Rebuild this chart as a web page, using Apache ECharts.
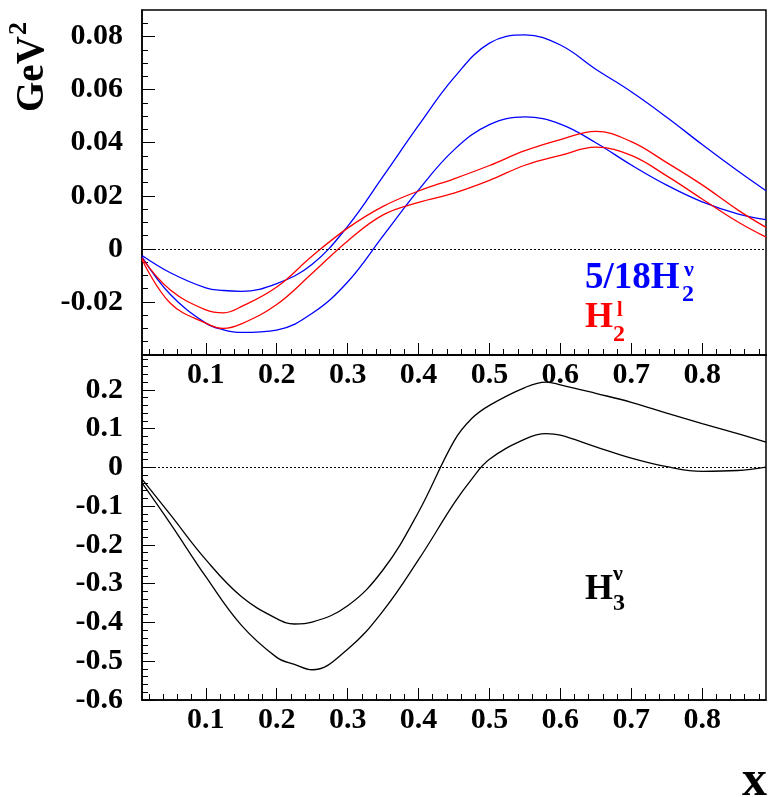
<!DOCTYPE html>
<html>
<head>
<meta charset="utf-8">
<script src="https://cdn.jsdelivr.net/npm/echarts@6/dist/echarts.min.js"></script>
<style>
html,body{margin:0;padding:0;background:#fff;}
#chart{width:768px;height:797px;}
</style>
</head>
<body>
<div id="chart"></div>
<script>
// ---- data ----
const xTop = [0.01,0.05,0.1,0.125,0.15,0.2,0.25,0.3,0.35,0.4,0.45,0.5,0.55,0.6,0.65,0.7,0.75,0.8,0.85,0.89];
const blueUpper = [-0.0025,-0.009,-0.0147,-0.0157,-0.016,-0.0131,-0.0058,0.0085,0.0273,0.0465,0.0645,0.0775,0.0806,0.0768,0.0677,0.0592,0.0496,0.0393,0.0294,0.0219];
const blueLower = [-0.003,-0.0172,-0.028,-0.0305,-0.0315,-0.0306,-0.0243,-0.0125,0.0049,0.0222,0.0373,0.0468,0.0497,0.047,0.040,0.0316,0.024,0.0177,0.0132,0.011];
const redUpper = [-0.0035,-0.0155,-0.023,-0.0241,-0.0218,-0.0144,-0.0027,0.0078,0.016,0.0218,0.0264,0.0314,0.037,0.0412,0.0443,0.0404,0.0325,0.0241,0.0147,0.0081];
const redLower = [-0.004,-0.0205,-0.028,-0.030,-0.0283,-0.021,-0.0092,0.003,0.0128,0.0175,0.021,0.0258,0.0315,0.0352,0.0383,0.0352,0.0275,0.0188,0.0102,0.0044];

const xBot = [0.01,0.05,0.1,0.15,0.2,0.225,0.25,0.3,0.35,0.4,0.45,0.475,0.5,0.55,0.58,0.6,0.65,0.7,0.75,0.8,0.85,0.89];
const blackUpper = [-0.03,-0.122,-0.238,-0.333,-0.39,-0.404,-0.399,-0.357,-0.264,-0.115,0.068,0.126,0.160,0.206,0.220,0.213,0.191,0.168,0.140,0.113,0.087,0.065];
const blackLower = [-0.04,-0.145,-0.282,-0.407,-0.49,-0.508,-0.522,-0.469,-0.37,-0.238,-0.093,-0.030,0.021,0.073,0.087,0.083,0.053,0.024,0.002,-0.010,-0.008,0.001];

// tick labels
const xTickLabels = [0.1,0.2,0.3,0.4,0.5,0.6,0.7,0.8];
const topYTickLabels = [-0.02,0,0.02,0.04,0.06,0.08];
const botYTickLabels = [-0.6,-0.5,-0.4,-0.3,-0.2,-0.1,0,0.1,0.2];

// ---- build ----
function pairs(xs, ys){ return xs.map((x,i)=>[x, ys[i]]); }
function minorTicks(from, to, step, majorStep){
  const out=[]; const n=Math.round((to-from)/step);
  for(let i=0;i<=n;i++){ const v=+(from+i*step).toFixed(6); if(Math.abs(v/majorStep-Math.round(v/majorStep))>1e-6) out.push(v); }
  return out;
}
const xMinor = minorTicks(0.02,0.88,0.02,0.1);
const topYMinor = minorTicks(-0.035,0.085,0.005,0.02);
const botYMinor = minorTicks(-0.58,0.28,0.02,0.1);

const FONT = 'Liberation Serif';
const lab = {fontFamily:FONT, fontWeight:'bold', fontSize:30, color:'#000'};
const fmtX = v => (+v).toFixed(1);
const fmtTop = v => Math.abs(v)<1e-9 ? '0' : (+v).toFixed(2);
const fmtBot = v => Math.abs(v)<1e-9 ? '0' : (+v).toFixed(1);

function xAxisPair(g){
  return [
    {gridIndex:g,type:'value',min:0.01,max:0.89,position:'bottom',
     axisLine:{show:true,onZero:false,lineStyle:{color:'#000',width:1.5}},
     axisTick:{show:true,inside:true,length:12,customValues:xTickLabels,lineStyle:{color:'#000',width:1}},
     axisLabel:Object.assign({show:true,customValues:xTickLabels,formatter:fmtX,margin:5},lab),
     splitLine:{show:false}},
    {gridIndex:g,type:'value',min:0.01,max:0.89,position:'bottom',
     axisLine:{show:false,onZero:false},
     axisTick:{show:true,inside:true,length:6,customValues:xMinor,lineStyle:{color:'#000',width:1}},
     axisLabel:{show:false},splitLine:{show:false}}
  ];
}
function yAxisPair(g,min,max,major,minor,fmt){
  return [
    {gridIndex:g,type:'value',min:min,max:max,position:'left',
     axisLine:{show:true,onZero:false,lineStyle:{color:'#000',width:1.5}},
     axisTick:{show:true,inside:true,length:13,customValues:major,lineStyle:{color:'#000',width:1}},
     axisLabel:Object.assign({show:true,customValues:major,formatter:fmt,margin:19},lab),
     splitLine:{show:false}},
    {gridIndex:g,type:'value',min:min,max:max,position:'left',
     axisLine:{show:false,onZero:false},
     axisTick:{show:true,inside:true,length:6,customValues:minor,lineStyle:{color:'#000',width:1}},
     axisLabel:{show:false},splitLine:{show:false}}
  ];
}
const zeroLine = {silent:true,symbol:['none','none'],label:{show:false},
  lineStyle:{color:'#000',type:[2,2],width:1},data:[{yAxis:0}],animation:false};
function line(name,xs,ys,color,xi,yi,extra){
  return Object.assign({name:name,type:'line',xAxisIndex:xi,yAxisIndex:yi,data:pairs(xs,ys),
    smooth:0.4,symbol:'none',showSymbol:false,lineStyle:{color:color,width:1.3},itemStyle:{color:color},
    animation:false,z:3},extra||{});
}

const T = (text,x,y,size,color,align,extra)=>Object.assign({type:'text',x:x,y:y,
  style:{text:text,fontFamily:FONT,fontWeight:'bold',fontSize:size,fill:color,align:align||'left',verticalAlign:'middle'}},extra||{});

const chart = echarts.init(document.getElementById('chart'),null,{renderer:'canvas'});
chart.setOption({
  animation:false,
  backgroundColor:'#fff',
  grid:[
    {left:142,top:10,width:624,height:345,show:true,borderColor:'#000',borderWidth:1.5,backgroundColor:'transparent'},
    {left:142,top:355,width:624,height:345,show:true,borderColor:'#000',borderWidth:1.5,backgroundColor:'transparent'}
  ],
  xAxis:[].concat(xAxisPair(0),xAxisPair(1)),
  yAxis:[].concat(
    yAxisPair(0,-0.04,0.09,topYTickLabels,topYMinor,fmtTop),
    yAxisPair(1,-0.6,0.29,botYTickLabels,botYMinor,fmtBot)),
  series:[
    line('5/18 H2nu upper',xTop,blueUpper,'#0000ff',0,0,{markLine:zeroLine}),
    line('5/18 H2nu lower',xTop,blueLower,'#0000ff',0,0),
    line('H2l upper',xTop,redUpper,'#ff0000',0,0),
    line('H2l lower',xTop,redLower,'#ff0000',0,0),
    line('H3nu upper',xBot,blackUpper,'#000000',2,2,{markLine:zeroLine}),
    line('H3nu lower',xBot,blackLower,'#000000',2,2)
  ],
  graphic:[
    {type:'group',x:33,y:112,rotation:Math.PI/2,children:[
      T('GeV',0,0,39,'#000','left'),
      T('2',77,-14,26,'#000','left')
    ]},
    T('5/18H',585,278,37,'#0000ff'),
    T('2',682,295,24,'#0000ff'),
    T('ν',684,270,22,'#0000ff'),
    T('H',585,318,36,'#ff0000'),
    T('2',613,335,24,'#ff0000'),
    T('l',617,311,20,'#ff0000'),
    T('H',585,590,36,'#000'),
    T('3',613,604,24,'#000'),
    T('ν',613,574,22,'#000'),
    T('x',767,782,50,'#000','right')
  ]
});
</script>
</body>
</html>
